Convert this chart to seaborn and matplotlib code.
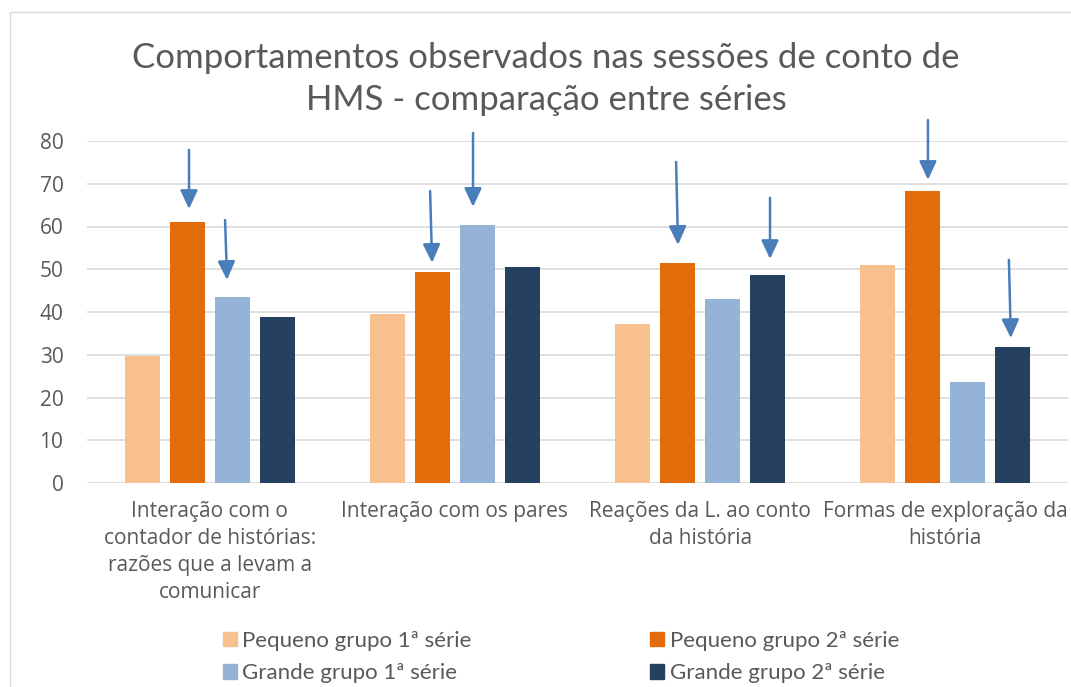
import matplotlib
matplotlib.use("Agg")
import matplotlib.pyplot as plt
import matplotlib.patches as mpatches
import seaborn as sns
import pandas as pd

# ---- data ----
categories = [
    "Interação com o\ncontador de histórias:\nrazões que a levam a\ncomunicar",
    "Interação com os pares",
    "Reações da L. ao conto\nda história",
    "Formas de exploração da\nhistória",
]
series_names = ["Pequeno grupo 1ª série", "Pequeno grupo 2ª série",
                "Grande grupo 1ª série", "Grande grupo 2ª série"]
pequeno_1 = [29.7, 39.6, 37.2, 51.0]
pequeno_2 = [61.1, 49.3, 51.4, 68.4]
grande_1 = [43.5, 60.4, 43.0, 23.6]
grande_2 = [38.8, 50.6, 48.6, 31.7]
yticks = [0, 10, 20, 30, 40, 50, 60, 70, 80]
title = "Comportamentos observados nas sessões de conto de\nHMS - comparação entre séries"

# decorative arrows (tail x, tail y, tip x, tip y) in data units
arrows = [
    (-0.084, 77.9, -0.084, 64.1),
    (0.063, 61.5, 0.071, 47.5),
    (0.899, 68.3, 0.907, 51.5),
    (1.074, 81.9, 1.074, 64.6),
    (1.902, 75.1, 1.910, 55.7),
    (2.285, 66.7, 2.285, 52.4),
    (2.929, 84.9, 2.929, 70.9),
    (3.259, 52.2, 3.267, 33.9),
]

colors = ["#F9C08F", "#E36C0A", "#95B3D7", "#254061"]
text_color = "#595959"
grid_color = "#D9D9D9"

values = [pequeno_1, pequeno_2, grande_1, grande_2]
rows = []
for name, vals in zip(series_names, values):
    for cat, v in zip(categories, vals):
        rows.append({"categoria": cat, "série": name, "valor": v})
df = pd.DataFrame(rows)

sns.set_theme(style="white")
plt.rcParams["font.family"] = ["Open Sans", "DejaVu Sans"]

fig = plt.figure(figsize=(10.71, 6.87), dpi=100)
W, H = 1071, 687
ax = fig.add_axes([87 / W, 1 - 483 / H, (1068 - 87) / W, (483 - 141) / H])

sns.barplot(data=df, x="categoria", y="valor", hue="série",
            order=categories, hue_order=series_names, palette=colors,
            width=0.733, gap=0.22, saturation=1, linewidth=0,
            errorbar=None, ax=ax, zorder=3)

ax.set_ylim(0, 80)
ax.set_xlim(-0.5, 3.5)
ax.set_yticks(yticks)
ax.set_yticklabels([str(t) for t in yticks])
for y in yticks:
    ax.axhline(y, color=grid_color, lw=1.2, zorder=1)
for s in ax.spines.values():
    s.set_visible(False)
ax.set_xlabel("")
ax.set_ylabel("")
ax.tick_params(axis="y", length=0, pad=17, labelsize=15, labelcolor=text_color)
ax.tick_params(axis="x", length=0, pad=13, labelsize=15, labelcolor=text_color)
for lab in ax.get_xticklabels():
    lab.set_linespacing(1.37)
    lab.set_horizontalalignment("center")

ax.legend_.remove()

for (x0, y0, x1, y1) in arrows:
    ax.annotate("", xy=(x1, y1), xytext=(x0, y0),
                arrowprops=dict(arrowstyle="-|>,head_length=0.75,head_width=0.35",
                                mutation_scale=15, lw=1.8, color="#4A7EBB",
                                shrinkA=0, shrinkB=0),
                annotation_clip=False, zorder=5)

fig.text(546 / W, 1 - 79 / H, title, ha="center", va="center",
         fontsize=25, color=text_color, family=["Lato", "DejaVu Sans"],
         fontweight="normal", linespacing=1.4)

handles = [mpatches.Patch(color=c) for c in colors]
order = [0, 2, 1, 3]
leg = fig.legend([handles[i] for i in order], [series_names[i] for i in order],
                 ncol=2, loc="center", bbox_to_anchor=(561 / W, 1 - 657 / H),
                 frameon=False, handlelength=0.63, handleheight=0.63,
                 handletextpad=0.23, columnspacing=8.05, labelspacing=0.55,
                 prop={"family": ["Lato", "DejaVu Sans"], "size": 16})
for t in leg.get_texts():
    t.set_color(text_color)

border = mpatches.Rectangle((10 / W, -0.2), 1.5, (687 - 12) / H + 0.2,
                            transform=fig.transFigure, fill=False,
                            edgecolor=grid_color, lw=1.0)
fig.patches.append(border)

fig.savefig("out.png", dpi=100)
